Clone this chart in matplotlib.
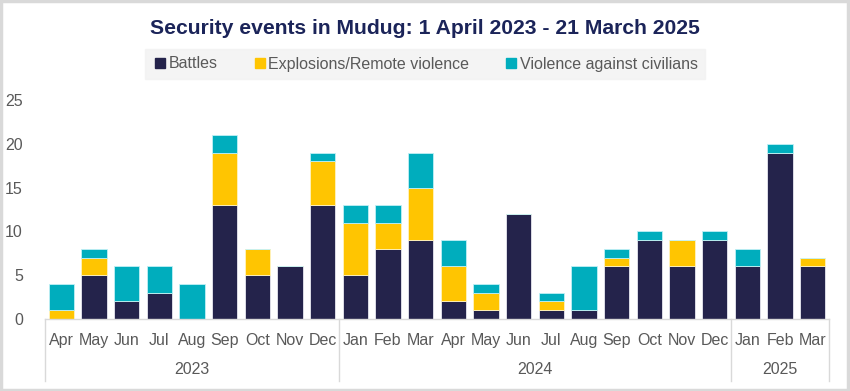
import matplotlib
matplotlib.use("Agg")
import matplotlib.pyplot as plt
import matplotlib.transforms as mtransforms
from matplotlib.patches import Rectangle
from matplotlib.lines import Line2D
import numpy as np

months = ["Apr", "May", "Jun", "Jul", "Aug", "Sep", "Oct", "Nov", "Dec",
          "Jan", "Feb", "Mar", "Apr", "May", "Jun", "Jul", "Aug", "Sep", "Oct", "Nov", "Dec",
          "Jan", "Feb", "Mar"]
years = ["2023", "2024", "2025"]
year_counts = [9, 12, 3]
battles = [0, 5, 2, 3, 0, 13, 5, 6, 13, 5, 8, 9, 2, 1, 12, 1, 1, 6, 9, 6, 9, 6, 19, 6]
explosions = [1, 2, 0, 0, 0, 6, 3, 0, 5, 6, 3, 6, 4, 2, 0, 1, 0, 1, 0, 3, 0, 0, 0, 1]
violence = [3, 1, 4, 3, 4, 2, 0, 0, 1, 2, 2, 4, 3, 1, 0, 1, 5, 1, 1, 0, 1, 2, 1, 0]
series_names = ["Battles", "Explosions/Remote violence", "Violence against civilians"]
colors = ["#24234B", "#FFC501", "#00ADBD"]

plt.rcParams['font.family'] = ['Liberation Sans', 'DejaVu Sans']

fig = plt.figure(figsize=(8.5, 3.91), dpi=100)
ax = fig.add_axes([45/850, 1-319/391, (829-45)/850, (319-100)/391])

x = np.arange(len(months))
b = np.array(battles)
e = np.array(explosions)
v = np.array(violence)
ax.bar(x, b, width=0.78, color=colors[0], edgecolor="#e8e8f0", linewidth=0.6, label=series_names[0])
ax.bar(x, e, width=0.78, bottom=b, color=colors[1], edgecolor="#fff3c0", linewidth=0.6, label=series_names[1])
ax.bar(x, v, width=0.78, bottom=b+e, color=colors[2], edgecolor="#c0f0f5", linewidth=0.6, label=series_names[2])

ax.set_xlim(-0.5, len(months)-0.5)
ax.set_ylim(0, 25)
ax.set_yticks([0, 5, 10, 15, 20, 25])
ax.tick_params(axis='y', length=0, labelsize=11.5, labelcolor="#595959", pad=16)
ax.set_xticks(x)
ax.set_xticklabels(months)
ax.tick_params(axis='x', length=0, labelsize=11.5, labelcolor="#595959", pad=10)
for s in ["top", "right", "left"]:
    ax.spines[s].set_visible(False)
ax.spines["bottom"].set_color("#D9D9D9")
ax.spines["bottom"].set_linewidth(1)

trans = mtransforms.blended_transform_factory(ax.transData, ax.transAxes)
y_low = ((391-381)/391 - (1-319/391)) / ((319-100)/391)
y_year = ((391-370)/391 - (1-319/391)) / ((319-100)/391)
start = -0.5
bounds = [start]
for c in year_counts:
    bounds.append(bounds[-1] + c)
for bx in bounds:
    ax.plot([bx, bx], [0, y_low], transform=trans, color="#D9D9D9", lw=1, clip_on=False)
for i, yr in enumerate(years):
    mid = (bounds[i] + bounds[i+1]) / 2
    ax.text(mid, y_year, yr, transform=trans, ha="center", va="center",
            fontsize=11.5, color="#595959")

fig.text(0.5, 1-28/391, "Security events in Mudug: 1 April 2023 - 21 March 2025",
         ha="center", va="center", fontsize=15.2, fontweight="bold", color="#1B2459")

handles = [Line2D([0], [0], marker='s', linestyle='none', markersize=6.5,
                  markerfacecolor=c, markeredgecolor=c) for c in colors]
leg = fig.legend(handles, series_names, loc="center", bbox_to_anchor=(425/850, 1-64/391),
                 ncol=3, frameon=True, fontsize=11.5, handletextpad=0.05, columnspacing=2.1,
                 borderpad=0.45, handlelength=1.0)
leg.get_frame().set_facecolor("#F2F2F2")
leg.get_frame().set_edgecolor("#F2F2F2")
leg.get_frame().set_boxstyle("square", pad=0)
for t in leg.get_texts():
    t.set_color("#595959")

fig.patches.append(Rectangle((0.001, 0.002), 0.997, 0.995, transform=fig.transFigure,
                             fill=False, edgecolor="#D9D9D9", linewidth=2.5))

fig.savefig("out.png", dpi=100)
